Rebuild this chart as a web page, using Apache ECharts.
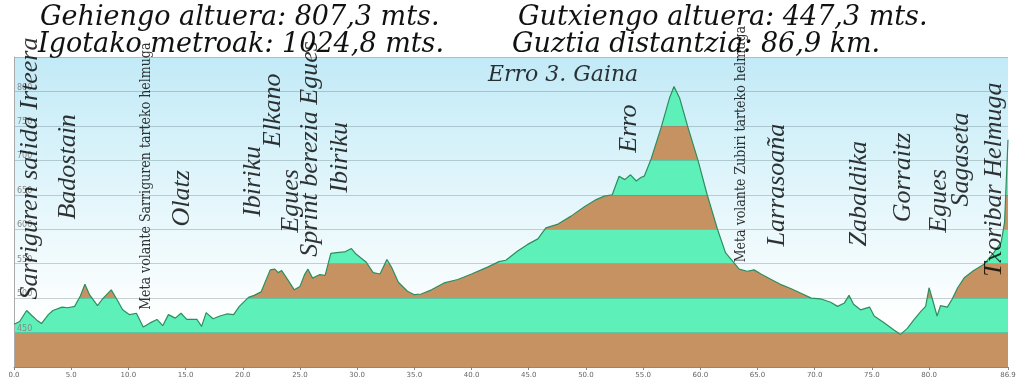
<!DOCTYPE html>
<html><head><meta charset="utf-8">
<script src="https://cdn.jsdelivr.net/npm/echarts@6/dist/echarts.min.js"></script>
<style>html,body{margin:0;padding:0;background:#fff}#c{width:1024px;height:388px}</style>
</head><body><div id="c"></div>
<script>
// ---- data ----
const distanceKm = [0.0,0.5,1.1,1.6,2.0,2.4,3.0,3.4,4.2,4.7,5.3,5.8,6.2,6.6,7.3,7.7,8.1,8.5,9.0,9.5,10.1,10.7,11.3,11.9,12.5,13.0,13.5,14.1,14.6,15.1,16.0,16.4,16.8,17.4,18.0,18.6,19.2,19.7,20.5,21.0,21.6,22.4,22.8,23.1,23.4,24.0,24.5,25.0,25.4,25.7,26.1,26.7,27.2,27.7,28.2,28.9,29.5,29.9,30.8,31.4,32.0,32.6,33.0,33.6,34.4,35.0,35.6,36.5,37.6,38.8,40.0,41.4,42.4,43.0,44.0,44.9,45.8,46.5,47.5,48.7,49.9,50.9,51.6,52.3,52.9,53.4,53.9,54.4,54.8,55.1,55.7,56.6,57.3,57.7,58.2,58.9,59.8,60.6,61.5,62.2,63.0,63.4,64.1,64.7,65.3,66.2,67.0,67.9,68.8,69.7,70.5,71.4,72.0,72.6,73.0,73.4,74.0,74.8,75.2,76.1,76.9,77.5,78.1,78.7,79.3,79.7,80.0,80.3,80.7,81.0,81.6,82.0,82.5,83.1,83.9,84.8,85.7,86.3,86.6,86.9];
const elevationM = [462,466,482,474,468,463,476,482,487,486,488,503,520,505,489,498,505,512,498,483,476,478,458,464,469,460,476,471,478,469,469,459,479,470,474,477,476,488,501,504,509,541,542,537,540,525,512,517,534,542,529,534,533,565,566,567,572,564,552,537,535,556,545,523,510,505,506,512,522,527,535,545,553,555,568,578,586,602,607,619,633,643,648,650,677,672,679,670,675,677,702,749,790,807.3,790,749,700,650,600,566,550,542,539,541,535,527,520,514,507,500,499,494,488,493,504,491,483,487,474,464,454,447.3,456,469,481,488,515,498,474,489,487,498,515,530,540,549,567,581,610,730];
const xTickValues = [0,5,10,15,20,25,30,35,40,45,50,55,60,65,70,75,80,86.9];
const yTickLabels = [450,500,550,600,650,700,750,800];
const bandEdges = [350,450,500,550,600,650,700,750,900];
const headerLines = ['Gehiengo altuera: 807,3 mts.','Igotako metroak: 1024,8 mts.','Gutxiengo altuera: 447,3 mts.','Guztia distantzia: 86,9 km.'];
const summitTitle = 'Erro 3. Gaina';
const summitKm = 48.0;
const summitLabelElev = 823;
const placeNames = ['Sarriguren salida Irteera','Badostain','Meta volante Sarriguren tarteko helmuga','Olatz','Ibiriku','Elkano','Egues','Sprint berezia Egues','Ibiriku','Erro','Meta volante Zubiri tarteko helmuga','Larrasoaña','Zabaldika','Gorraitz','Egues','Sagaseta','Txoribar Helmuga'];
const placeKm = [1.4,4.7,11.6,14.7,20.9,22.7,24.2,25.9,28.5,53.8,63.6,66.7,73.9,77.7,80.9,82.8,85.7];
const placeLabelElev = [498,614,483,604,618,719,595,560,653,711,552,575,575,610,595,633,531];

// ---- styles ----
const BROWN = '#c79262', GREEN = '#5ef0b9';
const chart = echarts.init(document.getElementById('c'), null, {renderer:'canvas'});
const profile = distanceKm.map((d,i)=>[d, elevationM[i]]);
const pieces = [];
for (let i=0;i<bandEdges.length-1;i++) pieces.push({min:bandEdges[i], max:bandEdges[i+1], color: i%2===0 ? BROWN : GREEN});
const placeData = placeNames.map((n,i)=>{
  const condensed = n.indexOf('Meta volante')===0;
  const item = {name:n, value:[placeKm[i], placeLabelElev[i]]};
  if (condensed) item.label = {fontFamily:'"DejaVu Serif Condensed","DejaVu Sans Condensed",serif', fontStyle:'normal', fontSize:14};
  return item;
});
const headerFont = 'italic 27px "DejaVu Serif"';

chart.setOption({
  animation:false,
  grid:{left:14,right:16,top:57,bottom:21,show:true,borderWidth:0,
    backgroundColor:new echarts.graphic.LinearGradient(0,0,0,1,[{offset:0,color:'#c2eaf7'},{offset:0.45,color:'#e3f6fb'},{offset:0.85,color:'#ffffff'}])},
  xAxis:{type:'value',min:0,max:86.9,
    axisLine:{show:true,lineStyle:{color:'#999',width:1}},
    axisTick:{show:true,length:3,customValues:xTickValues,lineStyle:{color:'#888'}},
    axisLabel:{customValues:xTickValues,formatter:v=>v.toFixed(1),fontSize:7,color:'#666',margin:5,fontFamily:'"DejaVu Sans",sans-serif'},
    splitLine:{show:false}},
  yAxis:{type:'value',min:400,max:850,interval:50,z:3,
    axisLine:{show:true,lineStyle:{color:'#aaa'}},
    axisTick:{show:false},
    axisLabel:{inside:true,margin:3,verticalAlign:'bottom',fontSize:8,color:'#8a8a8a',fontFamily:'"DejaVu Sans",sans-serif',
      formatter:v=> yTickLabels.indexOf(v)>=0 ? String(v) : ''},
    splitLine:{show:true,lineStyle:{color:'rgba(80,105,110,0.3)',width:1}}},
  visualMap:{type:'piecewise',show:false,seriesIndex:0,dimension:1,pieces:pieces,outOfRange:{color:BROWN}},
  series:[
    {type:'line',data:profile,showSymbol:false,z:2,lineStyle:{width:0},areaStyle:{opacity:1},silent:true},
    {type:'line',data:profile,showSymbol:false,z:4,color:'#2e8d5e',lineStyle:{color:'#2e8d5e',width:1.2},silent:true},
    {type:'scatter',data:placeData,symbolSize:0,z:6,silent:true,
      label:{show:true,position:'inside',rotate:90,align:'left',verticalAlign:'middle',formatter:p=>p.name,
        color:'#000',textBorderWidth:0,fontFamily:'"Liberation Serif",serif',fontStyle:'italic',fontSize:26}},
    {type:'scatter',data:[{name:summitTitle,value:[summitKm,summitLabelElev]}],symbolSize:0,z:6,silent:true,
      label:{show:true,position:'inside',align:'center',verticalAlign:'middle',formatter:p=>p.name,
        color:'#000',textBorderWidth:0,fontFamily:'"DejaVu Serif",serif',fontStyle:'italic',fontSize:22}}
  ],
  graphic:[
    {type:'text',left:40,top:4,style:{text:headerLines[0],font:headerFont,fill:'#111'}},
    {type:'text',left:38,top:31,style:{text:headerLines[1],font:headerFont,fill:'#111'}},
    {type:'text',left:518,top:4,style:{text:headerLines[2],font:headerFont,fill:'#111'}},
    {type:'text',left:512,top:31,style:{text:headerLines[3],font:headerFont,fill:'#111'}}
  ]
});
</script></body></html>
